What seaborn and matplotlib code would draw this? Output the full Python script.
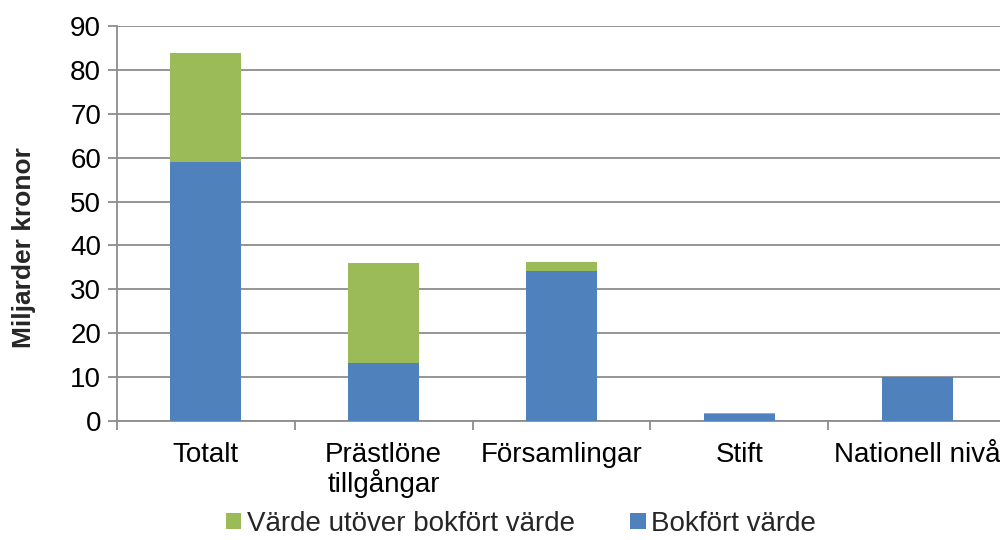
import matplotlib
matplotlib.use("Agg")
import matplotlib.pyplot as plt
import seaborn as sns
import pandas as pd
from matplotlib.patches import Patch

categories = ["Totalt", "Prästlöne\ntillgångar", "Församlingar", "Stift", "Nationell nivå"]
bokfort = [59.0, 13.3, 34.2, 1.5, 10.0]
utover = [24.8, 22.6, 2.0, 0.4, 0.1]
total = [b + u for b, u in zip(bokfort, utover)]

series_names = ["Värde utöver bokfört värde", "Bokfört värde"]
blue = "#4F81BD"
green = "#9BBB59"

sns.set_theme(style="white")
plt.rcParams["font.family"] = ["Liberation Sans", "DejaVu Sans"]

df = pd.DataFrame({"cat": categories, "bokfort": bokfort, "total": total})

fig = plt.figure(figsize=(10, 5.4), dpi=100)
ax = fig.add_axes([0.117, 0.2204, 0.889, 0.7315])

sns.barplot(data=df, x="cat", y="total", color=green, width=0.4, saturation=1,
            ax=ax, zorder=3, edgecolor="none")
sns.barplot(data=df, x="cat", y="bokfort", color=blue, width=0.4, saturation=1,
            ax=ax, zorder=4, edgecolor="none")

FS = 20
ax.set_ylim(0, 90)
ax.set_xlim(-0.5, len(categories) - 0.5)
ax.set_yticks(range(0, 91, 10))
ax.yaxis.grid(True, color="#8c8c8c", linewidth=1.3, zorder=0)
ax.set_axisbelow(True)

for s in ["top", "right"]:
    ax.spines[s].set_visible(False)
for s in ["left", "bottom"]:
    ax.spines[s].set_color("#8c8c8c")
    ax.spines[s].set_linewidth(1.3)

ax.tick_params(axis="y", direction="out", length=6.5, width=1.3, color="#8c8c8c",
               labelsize=FS, pad=5, left=True)
ax.tick_params(axis="x", which="major", length=0, labelsize=FS, pad=15)
ax.set_xticks(range(len(categories)))
ax.set_xticklabels(categories, fontsize=FS, color="black", linespacing=1.05)
ax.set_xticks([i - 0.5 for i in range(len(categories) + 1)], minor=True)
ax.tick_params(axis="x", which="minor", direction="out", length=6.5, width=1.3,
               color="#8c8c8c", bottom=True)
for lbl in ax.get_yticklabels():
    lbl.set_color("black")

ax.set_xlabel("")
ax.set_ylabel("Miljarder kronor", fontsize=19, fontweight="bold")
ax.yaxis.set_label_coords(-0.091, 0.438)

handles = [Patch(facecolor=green, edgecolor="none"), Patch(facecolor=blue, edgecolor="none")]
fig.legend(handles, series_names, loc="center", bbox_to_anchor=(0.521, 0.03),
           ncol=2, frameon=False, fontsize=FS, handlelength=0.55, handleheight=0.55,
           handletextpad=0.2, columnspacing=2.0)

fig.savefig("out.png", dpi=100)
